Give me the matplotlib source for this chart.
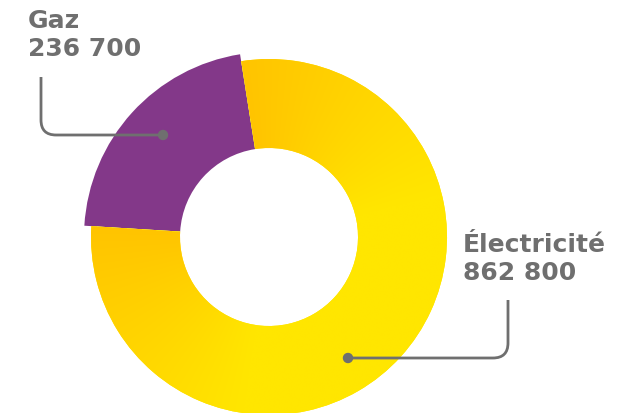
import numpy as np
import matplotlib.pyplot as plt
from matplotlib.path import Path
from matplotlib.patches import PathPatch, Circle

# données
labels = ['Gaz', 'Électricité']
valeurs = [236700, 862800]
textes = ['236 700', '862 800']

H = 413  # hauteur en pixels, pour passer des coordonnées image (y vers le bas) au repère
gris = '#6f6f6f'
violet = '#833889'
jaune = np.array([255, 230, 0]) / 255
orange = np.array([255, 196, 0]) / 255

fig = plt.figure(figsize=(6.35, 4.13), dpi=100)
ax = fig.add_axes([0, 0, 1, 1])

cx, cy = 269, H - 237
R, r = 178, 89
depart = 99

wedges, _ = ax.pie(valeurs, colors=[violet, jaune], startangle=depart,
                   counterclock=True, center=(cx, cy), radius=R,
                   wedgeprops=dict(width=R - r, linewidth=0))
# la part gaz dépasse un peu
wedges[0].set_radius(R + 7)
wedges[0].set_width(R + 7 - r)

# dégradé orange -> jaune sur la part électricité
a1 = wedges[1].theta1
a2 = wedges[1].theta2
xs = np.linspace(cx - R - 5, cx + R + 5, 400)
ys = np.linspace(cy - R - 5, cy + R + 5, 400)
X, Y = np.meshgrid(xs, ys)
theta = np.degrees(np.arctan2(Y - cy, X - cx))
d1 = (theta - a1) % 360
d2 = (a2 - theta) % 360
t = np.clip(np.minimum(d1, d2) / 85, 0, 1)[..., None]
img = orange * (1 - t) + jaune * t
im = ax.imshow(img, extent=[xs[0], xs[-1], ys[0], ys[-1]], origin='lower', zorder=2)
im.set_clip_path(wedges[1])

ax.set_xlim(0, 635)
ax.set_ylim(0, H)
ax.set_aspect('auto')
ax.axis('off')


def trait(p0, coin, p1, rayon=15):
    # ligne de rappel avec un coin arrondi (coordonnées image)
    (x0, y0), (xc, yc), (x1, y1) = p0, coin, p1
    v0 = np.array([x0 - xc, y0 - yc], float)
    v1 = np.array([x1 - xc, y1 - yc], float)
    a = np.array([xc, yc]) + v0 / np.linalg.norm(v0) * rayon
    b = np.array([xc, yc]) + v1 / np.linalg.norm(v1) * rayon
    pts = [(x0, y0), a, (xc, yc), b, (x1, y1)]
    pts = [(p[0], H - p[1]) for p in pts]
    codes = [Path.MOVETO, Path.LINETO, Path.CURVE3, Path.CURVE3, Path.LINETO]
    ax.add_patch(PathPatch(Path(pts, codes), fill=False, edgecolor=gris,
                           linewidth=2, zorder=5, capstyle='butt'))
    ax.add_patch(Circle((x1, H - y1), 4.5, color=gris, zorder=6))


trait((41, 77), (41, 135), (163, 135))
trait((508, 300), (508, 358), (348, 358))

police = dict(family='DejaVu Sans', weight='bold', size=18, color=gris, va='baseline')
ax.text(28, H - 28, labels[0], **police)
ax.text(28, H - 56, textes[0], **police)
ax.text(463, H - 252, labels[1], **police)
ax.text(463, H - 280, textes[1], **police)

fig.savefig('out.png', dpi=100)
